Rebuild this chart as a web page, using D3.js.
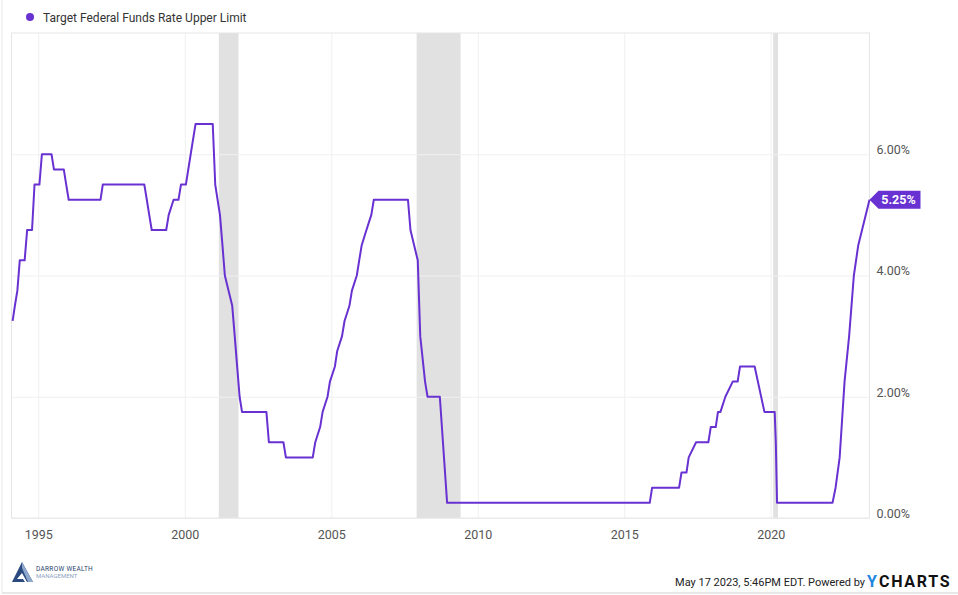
<!DOCTYPE html>
<html>
<head>
<meta charset="utf-8">
<script src="https://cdn.jsdelivr.net/npm/d3@7"></script>
<style>
  body { margin: 0; background: #fff; }
  svg { font-family: Roboto, "Open Sans", sans-serif; }
</style>
</head>
<body>
<div id="chart"></div>
<script>
var svgWidth = 958;
var svgHeight = 595;

// Target Federal Funds Rate Upper Limit, vertices
var rateDates = [
  "1994-02-15", "1994-03-15", "1994-04-15", "1994-05-15", "1994-07-15", "1994-08-15",
  "1994-10-15", "1994-11-15", "1995-01-15", "1995-02-15", "1995-06-15", "1995-07-15",
  "1995-11-15", "1995-12-15", "1996-01-15", "1997-02-15", "1997-03-15", "1998-08-15",
  "1998-09-15", "1998-10-15", "1998-11-15", "1999-05-15", "1999-06-15",
  "1999-08-15", "1999-10-15", "1999-11-15", "2000-01-15", "2000-03-15",
  "2000-05-15", "2000-12-15", "2001-01-15", "2001-03-15",
  "2001-04-15", "2001-05-15", "2001-08-15", "2001-09-15",
  "2001-10-15", "2001-11-15", "2001-12-15", "2002-10-15", "2002-11-15", "2003-05-15",
  "2003-06-15", "2004-05-15", "2004-06-15", "2004-08-15", "2004-09-15",
  "2004-11-15", "2004-12-15", "2005-02-15", "2005-03-15",
  "2005-05-15", "2005-06-15", "2005-08-15", "2005-09-15",
  "2005-11-15", "2005-12-15", "2006-01-15", "2006-03-15",
  "2006-05-15", "2006-06-15", "2007-08-15", "2007-09-15",
  "2007-12-15", "2008-01-15", "2008-03-15", "2008-04-15",
  "2008-09-15", "2008-12-15", "2015-11-15", "2015-12-15",
  "2016-11-15", "2016-12-15", "2017-02-15", "2017-03-15", "2017-06-15",
  "2017-11-15", "2017-12-15", "2018-02-15", "2018-03-15", "2018-04-15", "2018-06-15",
  "2018-09-15", "2018-11-15", "2018-12-15", "2019-06-15",
  "2019-10-15", "2020-02-20", "2020-03-05", "2020-03-20",
  "2022-02-10", "2022-03-20", "2022-05-10", "2022-07-10", "2022-09-05", "2022-11-03",
  "2022-12-28", "2023-05-17"
];
var rateValues = [
  3.25, 3.5, 3.75, 4.25, 4.25, 4.75,
  4.75, 5.5, 5.5, 6.0, 6.0, 5.75,
  5.75, 5.5, 5.25, 5.25, 5.5, 5.5,
  5.25, 5.0, 4.75, 4.75, 5.0,
  5.25, 5.25, 5.5, 5.5, 6.0,
  6.5, 6.5, 5.5, 5.0,
  4.5, 4.0, 3.5, 3.0,
  2.5, 2.0, 1.75, 1.75, 1.25, 1.25,
  1.0, 1.0, 1.25, 1.5, 1.75,
  2.0, 2.25, 2.5, 2.75,
  3.0, 3.25, 3.5, 3.75,
  4.0, 4.25, 4.5, 4.75,
  5.0, 5.25, 5.25, 4.75,
  4.25, 3.0, 2.25, 2.0,
  2.0, 0.25, 0.25, 0.5,
  0.5, 0.75, 0.75, 1.0, 1.25,
  1.25, 1.5, 1.5, 1.75, 1.75, 2.0,
  2.25, 2.25, 2.5, 2.5,
  1.75, 1.75, 1.25, 0.25,
  0.25, 0.5, 1.0, 2.25, 3.0, 4.0,
  4.5, 5.25
];

// recession shading
var recessionStarts = ["2001-03-01", "2007-12-01", "2020-02-01"];
var recessionEnds = ["2001-11-01", "2009-06-01", "2020-04-01"];

var xTickYears = [1995, 2000, 2005, 2010, 2015, 2020];
var yTickValues = [0, 2, 4, 6];

var seriesName = "Target Federal Funds Rate Upper Limit";
var lineColor = "#6831d1";

var parseDate = d3.timeParse("%Y-%m-%d");
var data = rateDates.map((d, i) => ({ date: parseDate(d), value: rateValues[i] }));

var plot = { left: 11.5, right: 869.5, top: 33, bottom: 518 };

var svg = d3.select("#chart")
  .append("svg")
  .attr("width", svgWidth)
  .attr("height", svgHeight);

var xScale = d3.scaleTime()
  .domain([new Date(1994, 1, 1), new Date(2023, 4, 17)])
  .range([plot.left, plot.right]);

var yScale = d3.scaleLinear()
  .domain([0, 8])
  .range([plot.bottom, plot.top]);

// outer frame
svg.append("line")
  .attr("x1", 2).attr("x2", 2).attr("y1", 0).attr("y2", 593)
  .attr("stroke", "#e8e8e8");
svg.append("line")
  .attr("x1", 2).attr("x2", svgWidth).attr("y1", 593).attr("y2", 593)
  .attr("stroke", "#e8e8e8").attr("stroke-width", 2);

// recession bands
svg.append("g")
  .selectAll("rect")
  .data(recessionStarts)
  .enter()
  .append("rect")
  .attr("x", (d) => xScale(parseDate(d)))
  .attr("y", plot.top)
  .attr("width", (d, i) => xScale(parseDate(recessionEnds[i])) - xScale(parseDate(d)))
  .attr("height", plot.bottom - plot.top)
  .attr("fill", "#e1e1e1");

// grid
var xAxis = d3.axisBottom(xScale)
  .tickValues(xTickYears.map((y) => new Date(y, 0, 1)))
  .tickSize(-(plot.bottom - plot.top))
  .tickFormat(d3.timeFormat("%Y"));

var xAxisGroup = svg.append("g")
  .attr("transform", `translate(0,${plot.bottom})`)
  .call(xAxis);
xAxisGroup.select(".domain").remove();
xAxisGroup.selectAll("line").attr("stroke", "#f0f0f0");
xAxisGroup.selectAll("text")
  .attr("y", 12)
  .attr("fill", "#555")
  .style("font-size", "12.5px")
  .style("font-family", "Roboto, sans-serif");

var yAxis = d3.axisRight(yScale)
  .tickValues(yTickValues)
  .tickSize(-(plot.right - plot.left))
  .tickFormat((d) => d.toFixed(2) + "%");

var yAxisGroup = svg.append("g")
  .attr("transform", `translate(${plot.right},0)`)
  .call(yAxis);
yAxisGroup.select(".domain").remove();
yAxisGroup.selectAll("line").attr("stroke", "#f0f0f0");
yAxisGroup.selectAll("text")
  .attr("x", 7)
  .attr("dy", "-0.05em")
  .attr("fill", "#555")
  .style("font-size", "12.5px")
  .style("font-family", "Roboto, sans-serif");

// plot frame
svg.append("rect")
  .attr("x", plot.left)
  .attr("y", plot.top)
  .attr("width", plot.right - plot.left)
  .attr("height", plot.bottom - plot.top)
  .attr("fill", "none")
  .attr("stroke", "#e6e6e6");

// the line
var line = d3.line()
  .x((d) => xScale(d.date))
  .y((d) => yScale(d.value));

svg.append("path")
  .datum(data)
  .attr("d", line)
  .attr("fill", "none")
  .attr("stroke", lineColor)
  .attr("stroke-width", 2)
  .attr("stroke-linejoin", "round");

// last value flag
var last = data[data.length - 1];
var lx = xScale(last.date);
var ly = yScale(last.value);
svg.append("path")
  .attr("d", `M${lx},${ly} L${lx + 9},${ly - 9} L${lx + 51},${ly - 9} L${lx + 51},${ly + 9} L${lx + 9},${ly + 9} Z`)
  .attr("fill", lineColor);
svg.append("text")
  .attr("x", lx + 29)
  .attr("y", ly + 4.5)
  .attr("text-anchor", "middle")
  .attr("fill", "#fff")
  .style("font-size", "12.5px")
  .style("font-weight", "bold")
  .text(last.value.toFixed(2) + "%");

// legend
svg.append("circle")
  .attr("cx", 30).attr("cy", 17).attr("r", 4)
  .attr("fill", lineColor);
svg.append("text")
  .attr("x", 43).attr("y", 21.5)
  .attr("fill", "#333")
  .style("font-size", "12px")
  .text(seriesName);

// logo bottom left
var logo = svg.append("g").attr("transform", "translate(12,562)");
logo.append("path")
  .attr("d", "M10,0 L21,20 L15,20 L10,11 L5,17 L11,17 L13,20 L0,20 Z")
  .attr("fill", "#2b4a7e");
logo.append("path")
  .attr("d", "M10,0 L21,20 L16,20 L10,6 Z")
  .attr("fill", "#8ea7cc");
logo.append("text")
  .attr("x", 24).attr("y", 9)
  .attr("fill", "#2b3f6e")
  .style("font-size", "6.5px")
  .style("letter-spacing", "0.3px")
  .text("DARROW WEALTH");
logo.append("text")
  .attr("x", 24).attr("y", 15.5)
  .attr("fill", "#8ea3c2")
  .style("font-size", "6px")
  .text("MANAGEMENT");

// footer
svg.append("text")
  .attr("x", 865).attr("y", 586)
  .attr("text-anchor", "end")
  .attr("fill", "#222")
  .style("font-size", "11px")
  .text("May 17 2023, 5:46PM EDT. Powered by");
svg.append("text")
  .attr("x", 867).attr("y", 587)
  .attr("fill", "#1f86e0")
  .style("font-size", "16px")
  .style("font-weight", "bold")
  .text("Y");
svg.append("text")
  .attr("x", 879).attr("y", 587)
  .attr("fill", "#111")
  .style("font-size", "16px")
  .style("font-weight", "bold")
  .style("letter-spacing", "1.7px")
  .text("CHARTS");
</script>
</body>
</html>
